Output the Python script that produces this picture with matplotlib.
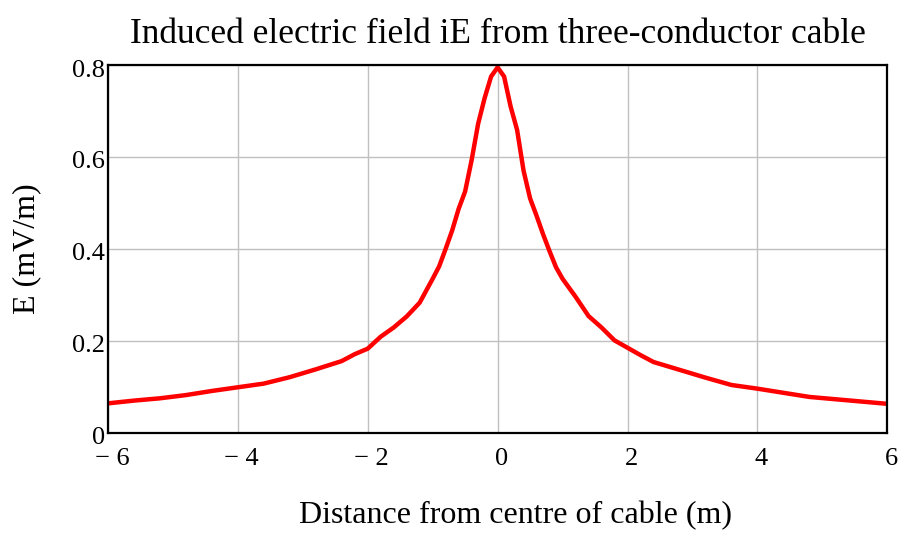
import matplotlib.pyplot as plt
from matplotlib.ticker import FixedLocator
from matplotlib.transforms import ScaledTranslation

plt.rcParams['font.family'] = ['Liberation Serif', 'DejaVu Serif']

# distance from centre of cable (m)
distance = [-6.0, -5.6, -5.2, -4.8, -4.4, -4.0, -3.6, -3.2, -2.8, -2.4, -2.2,
            -2.0, -1.8, -1.6, -1.4, -1.2, -1.0, -0.9, -0.8, -0.7, -0.6, -0.5,
            -0.4, -0.3, -0.2, -0.1, 0.0, 0.1, 0.2, 0.3, 0.4, 0.5, 0.6, 0.7,
            0.8, 0.9, 1.0, 1.2, 1.4, 1.6, 1.8, 2.0, 2.2, 2.4, 2.8, 3.2, 3.6,
            4.0, 4.4, 4.8, 5.2, 5.6, 6.0]
# induced electric field (mV/m)
field = [0.064, 0.070, 0.075, 0.082, 0.091, 0.099, 0.107, 0.121, 0.138, 0.156, 0.171,
         0.183, 0.209, 0.229, 0.253, 0.283, 0.335, 0.362, 0.400, 0.440, 0.487, 0.525,
         0.593, 0.672, 0.728, 0.775, 0.795, 0.775, 0.710, 0.659, 0.570, 0.510, 0.472, 0.432,
         0.395, 0.360, 0.335, 0.296, 0.254, 0.229, 0.201, 0.185, 0.169, 0.154, 0.137, 0.120, 0.104,
         0.096, 0.087, 0.078, 0.073, 0.068, 0.063]

xticks = [-6, -4, -2, 0, 2, 4, 6]
xlabels = ["\u2212 6", "\u2212 4", "\u2212 2", "0", "2", "4", "6"]
yticks = [0, 0.2, 0.4, 0.6, 0.8]
ylabels = ["0", "0.2", "0.4", "0.6", "0.8"]

fig = plt.figure(figsize=(8.99, 5.33), dpi=100)
ax = fig.add_axes([0.120, 0.188, 0.867, 0.690])

ax.plot(distance, field, color="#ff0000", lw=3.2, solid_joinstyle="miter")

ax.set_xlim(-6, 6)
ax.set_ylim(0, 0.8)
ax.xaxis.set_major_locator(FixedLocator(xticks))
ax.yaxis.set_major_locator(FixedLocator(yticks))
ax.set_xticklabels(xlabels)
ax.set_yticklabels(ylabels)
ax.grid(True, color="#c0c0c0", lw=1)
ax.tick_params(length=0, labelsize=19)
ax.tick_params(axis="x", pad=11)
ax.tick_params(axis="y", pad=2)
# labels sit a bit right / below their ticks, like the original
for lbl in ax.get_xticklabels():
    lbl.set_transform(lbl.get_transform() + ScaledTranslation(4 / 100, 0, fig.dpi_scale_trans))
for lbl in ax.get_yticklabels():
    lbl.set_transform(lbl.get_transform() + ScaledTranslation(0, -3 / 100, fig.dpi_scale_trans))
for s in ax.spines.values():
    s.set_linewidth(1.6)
    s.set_color("black")

ax.set_title("Induced electric field iE from three-conductor cable", fontsize=25.5, pad=16)
ax.set_xlabel("Distance from centre of cable (m)", fontsize=23)
ax.xaxis.set_label_coords(0.523, -0.185)
ax.set_ylabel("E (mV/m)", fontsize=23, labelpad=22)

fig.savefig("out.png", dpi=100)
